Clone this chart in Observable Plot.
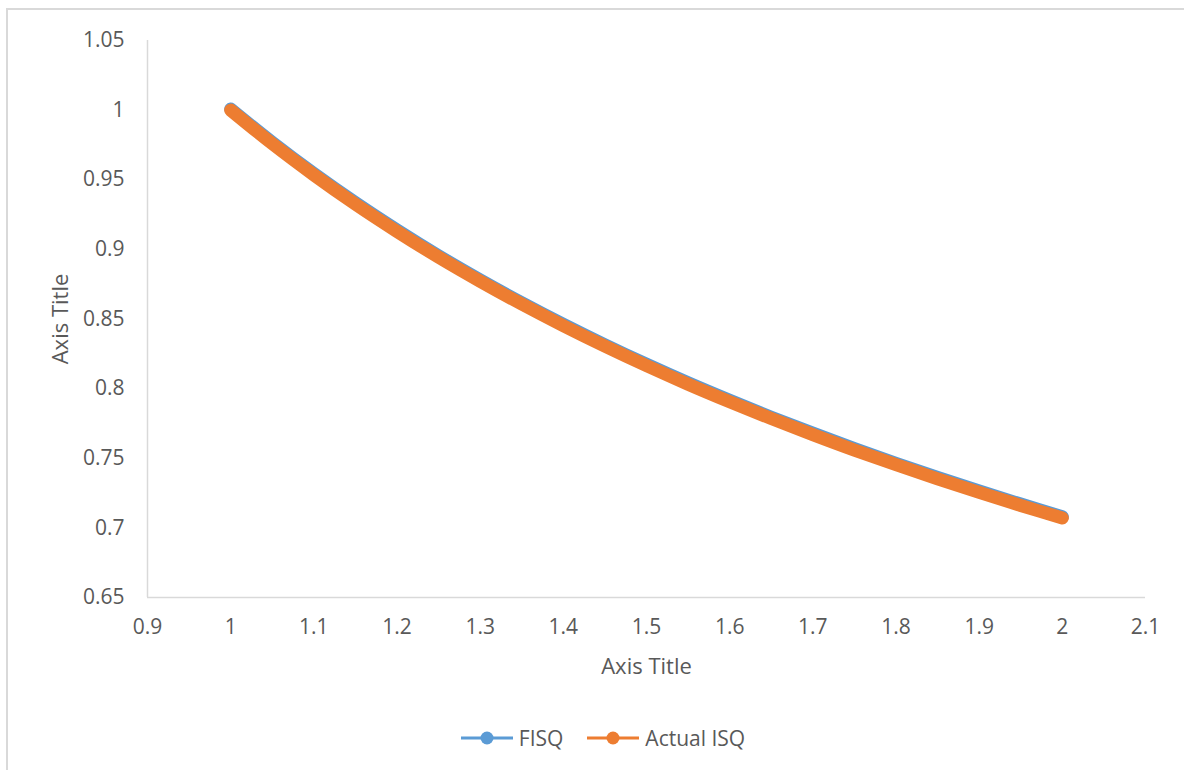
<!DOCTYPE html>
<html>
<head>
<meta charset="utf-8">
<script src="https://cdn.jsdelivr.net/npm/d3@7"></script>
<script src="https://cdn.jsdelivr.net/npm/@observablehq/plot@0.6"></script>
<style>
  html, body { margin: 0; padding: 0; background: #fff; }
  #wrap { position: relative; width: 1184px; height: 770px; overflow: hidden; font-family: "Open Sans", "Noto Sans", sans-serif; }
  #frame { position: absolute; left: 6px; top: 8px; width: 1200px; height: 800px; border-left: 2px solid #d9d9d9; border-top: 2px solid #d9d9d9; box-sizing: border-box; }
  #chart { position: absolute; left: 0; top: 0; }
  #legend { position: absolute; left: 0; top: 705px; width: 1184px; height: 65px; display: flex; justify-content: center; align-items: center; padding-left: 22px; box-sizing: border-box; font-size: 21px; color: #595959; }
  .item { display: flex; align-items: center; margin: 0 12px; }
  .item svg { margin-right: 6px; }
</style>
</head>
<body>
<div id="wrap">
  <div id="frame"></div>
  <div id="chart"></div>
  <div id="legend"></div>
</div>
<script>
const xValues = [1.00, 1.05, 1.10, 1.15, 1.20, 1.25, 1.30, 1.35, 1.40, 1.45, 1.50, 1.55, 1.60, 1.65, 1.70, 1.75, 1.80, 1.85, 1.90, 1.95, 2.00];
const fisq    = [1.0008, 0.9768, 0.9544, 0.9335, 0.9139, 0.8954, 0.8781, 0.8617, 0.8462, 0.8315, 0.8175, 0.8042, 0.7916, 0.7795, 0.7680, 0.7569, 0.7464, 0.7362, 0.7265, 0.7171, 0.7080];
const actual  = [1.0000, 0.9759, 0.9535, 0.9325, 0.9129, 0.8944, 0.8771, 0.8607, 0.8452, 0.8305, 0.8165, 0.8032, 0.7906, 0.7785, 0.7670, 0.7559, 0.7454, 0.7352, 0.7255, 0.7161, 0.7071];
const seriesNames = ["FISQ", "Actual ISQ"];
const seriesColors = ["#5B9BD5", "#ED7D31"];
const xTicks = [0.9, 1.0, 1.1, 1.2, 1.3, 1.4, 1.5, 1.6, 1.7, 1.8, 1.9, 2.0, 2.1];
const yTicks = [0.65, 0.70, 0.75, 0.80, 0.85, 0.90, 0.95, 1.00, 1.05];
const xTitle = "Axis Title";
const yTitle = "Axis Title";

const fisqData = xValues.map((x, i) => ({x, y: fisq[i]}));
const actualData = xValues.map((x, i) => ({x, y: actual[i]}));
const fmt = d => String(+d.toFixed(2));
const textColor = "#595959";

const plot = Plot.plot({
  width: 1184,
  height: 705,
  marginLeft: 147,
  marginRight: 39,
  marginTop: 40,
  marginBottom: 108,
  style: { fontFamily: "'Open Sans', 'Noto Sans', sans-serif", background: "transparent", color: textColor },
  x: { domain: [0.9, 2.1] },
  y: { domain: [0.65, 1.05] },
  marks: [
    Plot.axisX(xTicks, { tickSize: 0, tickPadding: 22, tickFormat: fmt, fontSize: 21, fill: textColor, label: null }),
    Plot.axisY(yTicks, { tickSize: 0, tickPadding: 23, tickFormat: fmt, fontSize: 21, fill: textColor, label: null }),
    Plot.ruleX([0.9], { stroke: "#d9d9d9", strokeWidth: 1.5 }),
    Plot.ruleY([0.65], { stroke: "#d9d9d9", strokeWidth: 1.5 }),
    Plot.line(fisqData, { x: "x", y: "y", stroke: seriesColors[0], strokeWidth: 13, curve: "catmull-rom", strokeLinecap: "round", strokeLinejoin: "round" }),
    Plot.line(actualData, { x: "x", y: "y", stroke: seriesColors[1], strokeWidth: 13, curve: "catmull-rom", strokeLinecap: "round", strokeLinejoin: "round" }),
    Plot.text([xTitle], { frameAnchor: "bottom", dy: 69, fontSize: 22, fill: textColor, lineAnchor: "middle", textAnchor: "middle" }),
    Plot.text([yTitle], { frameAnchor: "left", dx: -87, rotate: -90, fontSize: 22, fill: textColor, lineAnchor: "middle", textAnchor: "middle" })
  ]
});
document.getElementById("chart").appendChild(plot);

const legend = document.getElementById("legend");
seriesNames.forEach((name, i) => {
  const item = document.createElement("div");
  item.className = "item";
  item.innerHTML = `<svg width="52" height="16"><line x1="0" y1="8" x2="52" y2="8" stroke="${seriesColors[i]}" stroke-width="3"/><circle cx="26" cy="8" r="6.5" fill="${seriesColors[i]}"/></svg><span>${name}</span>`;
  legend.appendChild(item);
});
</script>
</body>
</html>
